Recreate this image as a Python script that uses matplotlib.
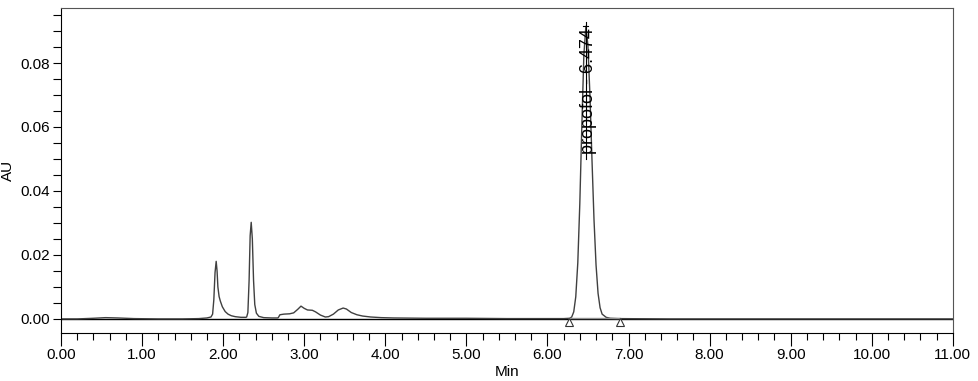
import matplotlib
matplotlib.use("Agg")
import matplotlib.pyplot as plt
from matplotlib.ticker import MultipleLocator, FormatStrFormatter

plt.rcParams['font.family'] = ['Liberation Sans', 'DejaVu Sans']

# chromatogram trace (time in min, absorbance in AU)
time = [0.00, 0.20, 0.40, 0.55, 0.70, 0.90, 1.20, 1.50, 1.70, 1.80,
        1.85, 1.87, 1.885, 1.90, 1.914, 1.925, 1.935, 1.95, 1.965, 1.99,
        2.025, 2.06, 2.10, 2.15, 2.22, 2.28,
        2.29, 2.305, 2.32, 2.333, 2.346, 2.36, 2.375, 2.39, 2.41, 2.44,
        2.50, 2.60, 2.67,
        2.68, 2.70, 2.75, 2.82, 2.87, 2.92, 2.96, 3.00, 3.04, 3.10,
        3.14, 3.20, 3.26, 3.30, 3.36, 3.42, 3.48, 3.52, 3.58, 3.65,
        3.72, 3.82, 3.95, 4.10, 4.50, 5.00, 5.50, 6.00, 6.20,
        6.274, 6.299, 6.324, 6.349, 6.374, 6.399, 6.424, 6.449, 6.474,
        6.499, 6.524, 6.549, 6.574, 6.599, 6.624, 6.649, 6.674, 6.724,
        6.774, 6.87, 7.50, 9.00, 11.00]
absorb = [0.0000, 0.0000, 0.0002, 0.0004, 0.0003, 0.0001, 0.0000, 0.0000, 0.0001, 0.0003,
          0.0006, 0.0015, 0.0060, 0.0145, 0.0180, 0.0150, 0.0100, 0.0070, 0.0056, 0.0038,
          0.0023, 0.0015, 0.0010, 0.0007, 0.0005, 0.0005,
          0.0006, 0.0020, 0.0120, 0.0260, 0.0302, 0.0250, 0.0120, 0.0045, 0.0018, 0.0008,
          0.0004, 0.0003, 0.0003,
          0.0004, 0.0013, 0.0015, 0.0016, 0.0019, 0.0030, 0.0040, 0.0033, 0.0028, 0.0027,
          0.0022, 0.0012, 0.0006, 0.0007, 0.0015, 0.0028, 0.0034, 0.0031, 0.0020, 0.0013,
          0.0009, 0.0006, 0.0004, 0.0003, 0.0002, 0.0002, 0.0001, 0.0001, 0.0001,
          0.0002, 0.0006, 0.0022, 0.0069, 0.0175, 0.0361, 0.0605, 0.0826, 0.0915,
          0.0855, 0.0698, 0.0498, 0.0310, 0.0169, 0.0080, 0.0035, 0.0015, 0.0005,
          0.0002, 0.0001, 0.0000, 0.0000, 0.0000]

# integration marks
peak_name = "propofol"
peak_rt = 6.474
peak_height = 0.0915
peak_limits = [6.26, 6.89]

fig = plt.figure(figsize=(9.79, 3.81), dpi=100)
ax = fig.add_axes([0.0623, 0.126, 0.911, 0.853])

ax.axhline(0, color='black', lw=1.0, zorder=1)
ax.plot(time, absorb, color='#404040', lw=1.0, zorder=2)

# baseline + start/end triangles
ax.plot(peak_limits, [0.0002, 0.0002], color='#909090', lw=1.0, zorder=2)
ax.plot(peak_limits, [-0.0011, -0.0011], ls='none', marker='^', ms=6,
        mfc='white', mec='#333333', mew=0.8, zorder=3)

# apex line and label
ax.plot([peak_rt, peak_rt], [0.050, 0.0928], color='black', lw=0.8, zorder=3)
ax.plot([peak_rt - 0.03, peak_rt + 0.03], [peak_height, peak_height], color='black', lw=0.8, zorder=3)
ax.text(peak_rt + 0.035, 0.0515, f"{peak_name} - {peak_rt:.3f}", rotation=90,
        ha='center', va='bottom', fontsize=13, zorder=4)

ax.set_xlim(0, 11)
ax.set_ylim(-0.0044, 0.0972)
ax.xaxis.set_major_locator(MultipleLocator(1))
ax.xaxis.set_minor_locator(MultipleLocator(0.2))
ax.xaxis.set_major_formatter(FormatStrFormatter('%.2f'))
ax.yaxis.set_major_locator(MultipleLocator(0.02))
ax.yaxis.set_minor_locator(MultipleLocator(0.005))
ax.yaxis.set_major_formatter(FormatStrFormatter('%.2f'))

ax.tick_params(axis='x', which='major', length=9, width=0.8, labelsize=11, pad=2)
ax.tick_params(axis='x', which='minor', length=5, width=0.8)
ax.tick_params(axis='y', which='both', length=6, width=0.8, labelsize=11, pad=2)
for s in ax.spines.values():
    s.set_linewidth(0.8)
ax.spines['top'].set_color('#555555')
ax.spines['right'].set_color('#555555')

ax.set_xlabel("Min", fontsize=11, labelpad=2)
ax.set_ylabel("AU", fontsize=11)
ax.yaxis.set_label_coords(-0.052, 0.5)

fig.savefig("out.png", dpi=100)
